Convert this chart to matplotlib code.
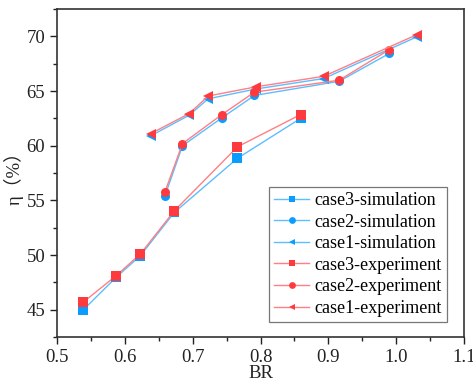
import matplotlib
matplotlib.use('Agg')
import matplotlib.pyplot as plt
from matplotlib.ticker import MultipleLocator

plt.rcParams['font.family'] = ['Liberation Serif', 'Noto Sans CJK SC', 'DejaVu Sans']
plt.rcParams['mathtext.fontset'] = 'stix'

# case3 (squares)
case3_br = [0.539, 0.587, 0.623, 0.673, 0.766, 0.859]
case3_sim = [45.0, 47.95, 49.95, 53.9, 58.85, 62.5]
case3_exp = [45.7, 48.1, 50.1, 54.05, 59.9, 62.85]

# case2 (circles)
case2_br = [0.659, 0.685, 0.743, 0.791, 0.916, 0.990]
case2_sim = [55.4, 60.0, 62.55, 64.6, 65.9, 68.45]
case2_exp = [55.75, 60.2, 62.85, 64.9, 66.0, 68.8]

# case1 (left triangles)
case1_br = [0.638, 0.695, 0.723, 0.794, 0.893, 1.030]
case1_sim = [60.9, 62.8, 64.3, 65.2, 66.15, 69.95]
case1_exp = [61.1, 62.95, 64.55, 65.4, 66.35, 70.15]

blue_mk = '#0A9CFF'
blue_ln = '#5CBEFF'
red_mk = '#FF3A3F'
red_ln = '#FF7F84'

fig = plt.figure(figsize=(4.73, 3.81), dpi=100)
ax = fig.add_axes([0.1205, 0.1155, 0.8605, 0.8605])

series = [
    (case3_br, case3_sim, 's', blue_mk, blue_ln, 'case3-simulation'),
    (case2_br, case2_sim, 'o', blue_mk, blue_ln, 'case2-simulation'),
    (case1_br, case1_sim, '<', blue_mk, blue_ln, 'case1-simulation'),
    (case3_br, case3_exp, 's', red_mk, red_ln, 'case3-experiment'),
    (case2_br, case2_exp, 'o', red_mk, red_ln, 'case2-experiment'),
    (case1_br, case1_exp, '<', red_mk, red_ln, 'case1-experiment'),
]
for x, y, mk, mc, lc, lab in series:
    ax.plot(x, y, color=lc, lw=1.0, marker=mk, markersize=6.5,
            markerfacecolor=mc, markeredgecolor=mc, markeredgewidth=0,
            label=lab)

ax.set_xlim(0.5, 1.1)
ax.set_ylim(42.5, 72.5)
ax.xaxis.set_major_locator(MultipleLocator(0.1))
ax.xaxis.set_minor_locator(MultipleLocator(0.05))
ax.yaxis.set_major_locator(MultipleLocator(5))
ax.yaxis.set_minor_locator(MultipleLocator(2.5))
ax.xaxis.set_major_formatter(matplotlib.ticker.FormatStrFormatter('%.1f'))
ax.tick_params(which='both', direction='out', top=False, right=False,
               labelsize=13.5, colors='#222222', width=1.0)
ax.tick_params(which='major', length=5)
ax.tick_params(which='minor', length=3)
for s in ax.spines.values():
    s.set_linewidth(1.2)
    s.set_color('#333333')

ax.set_xlabel('BR', fontsize=13.5, labelpad=-0.5, color='#222222')
ax.set_ylabel('η（%）', fontsize=13.5, labelpad=2, color='#222222')

leg = ax.legend(loc='lower right', bbox_to_anchor=(0.958, 0.045),
                fontsize=13, handlelength=1.9, handletextpad=0.3,
                labelspacing=0.25, borderpad=0.3, frameon=True,
                fancybox=False, markerscale=0.75, borderaxespad=0)
leg.get_frame().set_edgecolor('#555555')
leg.get_frame().set_linewidth(0.9)

fig.savefig('out.png', dpi=100)
plt.close()
